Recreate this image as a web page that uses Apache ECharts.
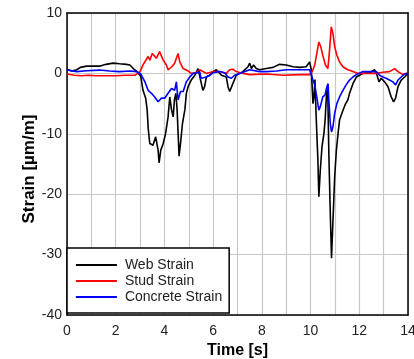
<!DOCTYPE html>
<html>
<head>
<meta charset="utf-8">
<script src="https://cdn.jsdelivr.net/npm/echarts@6/dist/echarts.min.js"></script>
<style>html,body{margin:0;padding:0;background:#fff}#c{width:414px;height:359px}</style>
</head>
<body>
<div id="c"></div>
<script>
const xTicks = [0, 2, 4, 6, 8, 10, 12, 14];
const yTicks = [10, 0, -10, -20, -30, -40];
const seriesNames = ['Web Strain', 'Stud Strain', 'Concrete Strain'];

const webStrain = [[0,0.7],[0.2,0.4],[0.4,0.6],[0.55,1.0],[0.8,1.2],[1.1,1.2],[1.34,1.2],[1.6,1.5],[1.9,1.7],[2.16,1.6],[2.44,1.5],[2.58,1.4],[2.72,0.8],[2.88,0.3],[3.03,-0.5],[3.12,-2.8],[3.23,-4.1],[3.29,-6],[3.34,-9.4],[3.4,-11.6],[3.53,-11.9],[3.64,-10.5],[3.74,-12.7],[3.78,-14.8],[3.85,-12.7],[3.95,-11.6],[4.05,-9.9],[4.15,-7.2],[4.22,-3.9],[4.29,-6],[4.36,-7.2],[4.41,-4.4],[4.47,-3.3],[4.52,-6],[4.58,-11.6],[4.6,-13.7],[4.66,-11.6],[4.74,-8.3],[4.84,-6],[4.9,-3.3],[4.97,-2.2],[5.1,-1.1],[5.25,-0.3],[5.38,0.8],[5.45,1.1],[5.5,-1.4],[5.58,-2.8],[5.65,-2.2],[5.72,-0.6],[5.86,-0.3],[6.0,0.3],[6.13,0.6],[6.2,0.3],[6.34,-0.3],[6.4,0],[6.54,-0.6],[6.61,-2.2],[6.68,-3],[6.75,-2.7],[6.81,-1.7],[6.88,-1.4],[6.95,-0.3],[7.09,0],[7.22,0.3],[7.43,1.1],[7.5,1.7],[7.57,0.8],[7.66,1.4],[7.77,0.8],[7.91,0.6],[8.18,0.8],[8.46,1.0],[8.73,1.5],[9.0,1.4],[9.28,1.1],[9.55,1.0],[9.82,1.1],[9.96,1.9],[10.03,0.6],[10.1,-5],[10.14,-3.9],[10.18,-1],[10.23,-7.2],[10.3,-14.3],[10.34,-20.4],[10.4,-16],[10.47,-12.1],[10.55,-9.9],[10.6,-7.5],[10.67,-2.2],[10.71,-3.9],[10.75,-13.2],[10.81,-23.2],[10.86,-30.6],[10.92,-24.3],[10.99,-17.1],[11.06,-12.7],[11.13,-9.9],[11.19,-7.7],[11.33,-6.1],[11.44,-5],[11.53,-4.4],[11.6,-3.3],[11.74,-1.7],[11.88,-0.6],[12.01,-0.3],[12.15,0],[12.42,0.1],[12.63,0.6],[12.73,-0.3],[12.81,-1.4],[12.9,-0.8],[13.04,-1.4],[13.18,-2.2],[13.31,-3.9],[13.41,-4.7],[13.49,-4.1],[13.59,-2.2],[13.72,-1.1],[13.86,-0.6],[14,0]];

const studStrain = [[0,-0.1],[0.3,-0.3],[0.6,-0.4],[0.9,-0.3],[1.2,-0.4],[1.6,-0.4],[2.0,-0.4],[2.4,-0.3],[2.8,-0.3],[3.0,0.3],[3.12,1.4],[3.33,2.8],[3.4,2.2],[3.5,3.3],[3.67,2.5],[3.8,3.6],[3.95,2.2],[4.08,1.4],[4.15,0.6],[4.3,1.1],[4.42,1.7],[4.56,3.3],[4.63,1.9],[4.77,0.8],[4.97,0.4],[5.1,0],[5.3,0.1],[5.45,0.6],[5.72,0],[6.0,0.3],[6.27,0.3],[6.54,0],[6.68,0.6],[6.81,0.7],[6.95,0.3],[7.22,0],[7.5,-0.2],[8.18,-0.1],[8.87,-0.3],[9.55,-0.2],[9.96,-0.2],[10.07,0.3],[10.17,1.4],[10.27,3.6],[10.34,5.2],[10.42,4.4],[10.5,3],[10.61,1.4],[10.71,0.8],[10.78,3.9],[10.85,7.7],[10.92,6.6],[10.99,4.4],[11.08,3],[11.19,1.9],[11.33,1.1],[11.53,0.6],[11.74,0.3],[11.95,0],[12.3,0],[12.7,0],[12.97,0.2],[13.24,0.3],[13.45,0.8],[13.59,0.3],[13.79,-0.2],[14,0.1]];

const concreteStrain = [[0,0.55],[0.4,0.3],[0.8,0.45],[1.34,0.55],[1.75,0.4],[2.16,0.3],[2.58,0.4],[2.85,0.3],[3.03,-0.1],[3.2,-1.4],[3.33,-2.8],[3.47,-3.3],[3.6,-3.9],[3.74,-4.7],[3.88,-4.1],[4.01,-4.1],[4.15,-3.3],[4.29,-2.5],[4.42,-2.8],[4.49,-1.4],[4.56,-4.4],[4.66,-3],[4.77,-3],[4.9,-1.4],[5.04,-0.6],[5.18,0],[5.35,0.1],[5.45,0.3],[5.5,-0.8],[5.58,-1.1],[5.72,-0.6],[5.86,-0.3],[6.0,0.1],[6.27,0.3],[6.47,0.1],[6.61,-0.6],[6.75,-0.8],[6.88,-0.3],[7.09,0],[7.5,0.6],[7.91,0.3],[8.18,0.3],[8.6,0.4],[9.0,0.6],[9.55,0.6],[9.96,0.6],[10.03,0.6],[10.1,-1.1],[10.17,-1.9],[10.23,-3.3],[10.34,-6.1],[10.4,-5.5],[10.5,-3.9],[10.59,-3.6],[10.67,-2.2],[10.72,-1.7],[10.75,-4.4],[10.81,-8.3],[10.86,-9.7],[10.92,-8.8],[10.99,-6.6],[11.08,-5],[11.19,-3.9],[11.33,-2.8],[11.46,-1.9],[11.6,-1.1],[11.74,-0.6],[11.88,-0.2],[12.15,0.3],[12.42,0.3],[12.7,0.3],[12.83,-0.3],[12.97,-0.6],[13.1,-0.8],[13.24,-1.1],[13.38,-1.4],[13.49,-1.9],[13.59,-1.1],[13.72,-0.6],[13.86,-0.1],[14,0]];

const colors = ['#000000', '#ff0000', '#0000ff'];
const FONT = 'Liberation Sans, Arial, sans-serif';

const chart = echarts.init(document.getElementById('c'), null, {renderer: 'canvas'});
const mkSeries = (name, data, color) => ({
  name, type: 'line', data, symbol: 'none', showSymbol: false, smooth: false,
  lineStyle: {color, width: 1.6}, itemStyle: {color}, z: 3
});
chart.setOption({
  animation: false,
  backgroundColor: '#fff',
  grid: {left: 67, top: 13, right: 6, bottom: 44, show: false, outerBoundsMode: 'none', containLabel: false},
  legend: {
    orient: 'vertical', left: 67, top: 248,
    data: seriesNames,
    itemWidth: 41, itemHeight: 14, itemGap: 2,
    padding: [10, 7, 9, 8],
    borderColor: '#000', borderWidth: 1.5, backgroundColor: '#fff',
    itemStyle: {opacity: 0},
    lineStyle: {width: 1.8},
    textStyle: {fontFamily: FONT, fontSize: 14, color: '#222', padding: [0, 0, 0, 3]},
    z: 10
  },
  xAxis: [{
    type: 'value', min: 0, max: 14, interval: 1,
    name: 'Time [s]', nameLocation: 'middle', nameGap: 28,
    nameTextStyle: {fontFamily: FONT, fontSize: 16, fontWeight: 'bold', color: '#000'},
    axisLine: {show: true, onZero: false, lineStyle: {color: '#000', width: 1.5}},
    axisTick: {show: false},
    axisLabel: {fontFamily: FONT, fontSize: 14, color: '#222', margin: 9,
      formatter: v => xTicks.indexOf(v) >= 0 ? String(v) : ''},
    splitLine: {show: true, lineStyle: {color: '#c8c8c8', width: 1.2}}
  }, {
    type: 'value', min: 0, max: 14, position: 'top',
    axisLine: {show: true, onZero: false, lineStyle: {color: '#000', width: 1.5}},
    axisTick: {show: false}, axisLabel: {show: false}, splitLine: {show: false}
  }],
  yAxis: [{
    type: 'value', min: -40, max: 10, interval: 10,
    name: 'Strain [µm/m]', nameLocation: 'middle', nameGap: 29, nameMoveOverlap: false,
    nameTextStyle: {fontFamily: FONT, fontSize: 17, fontWeight: 'bold', color: '#000', padding: [0, 10, 0, 0]},
    axisLine: {show: true, onZero: false, lineStyle: {color: '#000', width: 1.5}},
    axisTick: {show: false},
    axisLabel: {fontFamily: FONT, fontSize: 14, color: '#222', margin: 5,
      formatter: v => yTicks.indexOf(v) >= 0 ? String(v) : ''},
    splitLine: {show: true, lineStyle: {color: '#c8c8c8', width: 1.2}}
  }, {
    type: 'value', min: -40, max: 10, position: 'right',
    axisLine: {show: true, onZero: false, lineStyle: {color: '#000', width: 1.5}},
    axisTick: {show: false}, axisLabel: {show: false}, splitLine: {show: false}
  }],
  series: [
    mkSeries(seriesNames[0], webStrain, colors[0]),
    mkSeries(seriesNames[1], studStrain, colors[1]),
    mkSeries(seriesNames[2], concreteStrain, colors[2])
  ]
});
</script>
</body>
</html>
